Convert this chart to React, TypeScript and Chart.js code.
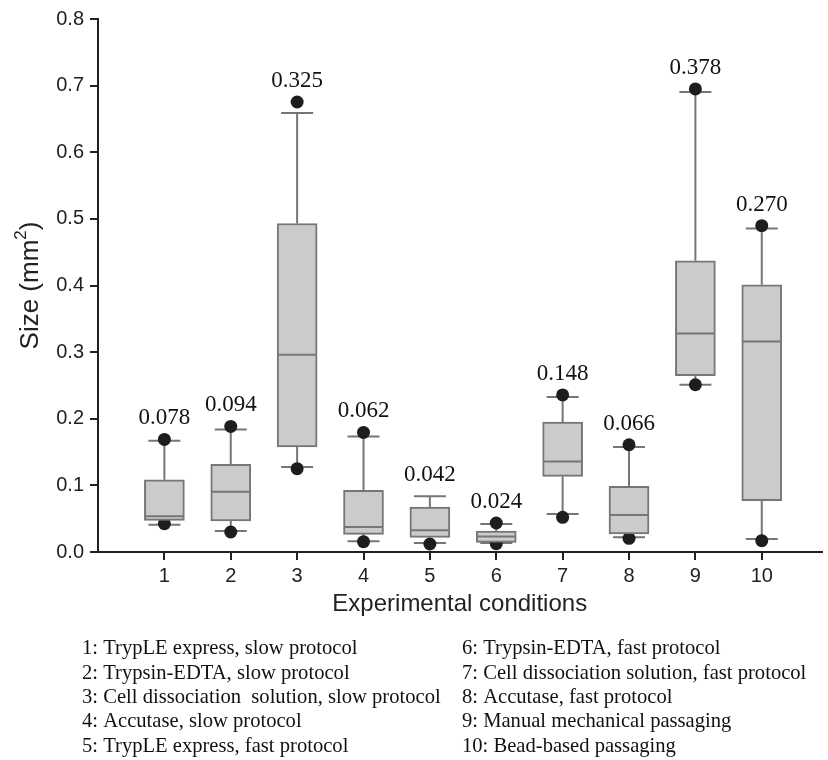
import React, { useEffect, useRef } from 'react';
import { Chart, registerables } from 'chart.js';

Chart.register(...registerables);

// ---- data ----
const categories = [1, 2, 3, 4, 5, 6, 7, 8, 9, 10];
const whiskerLow = [0.041, 0.0315, 0.1276, 0.016, 0.0135, 0.0135, 0.057, 0.022, 0.251, 0.0195];
const quartile1 = [0.0475, 0.0465, 0.1576, 0.0265, 0.022, 0.0144, 0.1135, 0.027, 0.2646, 0.077];
const medians = [0.0535, 0.0905, 0.296, 0.0375, 0.0325, 0.0234, 0.136, 0.0555, 0.328, 0.316];
const quartile3 = [0.1085, 0.1315, 0.493, 0.0925, 0.0675, 0.0315, 0.195, 0.0985, 0.437, 0.401];
const whiskerHigh = [0.167, 0.184, 0.659, 0.1735, 0.0835, 0.042, 0.2327, 0.1576, 0.6905, 0.4857];
const dotsHigh: (number | null)[] = [0.169, 0.1885, 0.6754, 0.1795, null, 0.0435, 0.2357, 0.161, 0.695, 0.4898];
const dotsLow: (number | null)[] = [0.0425, 0.03, 0.125, 0.0155, 0.012, 0.0125, 0.052, 0.0205, 0.251, 0.017];
const meanLabels = ['0.078', '0.094', '0.325', '0.062', '0.042', '0.024', '0.148', '0.066', '0.378', '0.270'];
const yTickValues = [0, 0.1, 0.2, 0.3, 0.4, 0.5, 0.6, 0.7, 0.8];
const legendLeft = [
  '1: TrypLE express, slow protocol',
  '2: Trypsin-EDTA, slow protocol',
  '3: Cell dissociation  solution, slow protocol',
  '4: Accutase, slow protocol',
  '5: TrypLE express, fast protocol',
];
const legendRight = [
  '6: Trypsin-EDTA, fast protocol',
  '7: Cell dissociation solution, fast protocol',
  '8: Accutase, fast protocol',
  '9: Manual mechanical passaging',
  '10: Bead-based passaging',
];
const yTitleMain = 'Size (mm';
const yTitleSup = '2';
const yTitleEnd = ')';

const AXIS = '#231f20';
const BOX_FILL = '#cacbcd';
const BOX_LINE = '#767676';
const DOT = '#1d1d1d';
const SANS = '"Liberation Sans", Arial, sans-serif';
const SERIF = '"Liberation Serif", "Times New Roman", serif';

export default function App() {
  const ref = useRef<HTMLCanvasElement>(null);

  useEffect(() => {
    if (!ref.current) return;

    const boxExtras = {
      id: 'boxExtras',
      beforeDatasetsDraw(chart: any) {
        const { ctx, scales } = chart;
        const x = scales.x, y = scales.y;
        ctx.save();
        ctx.strokeStyle = BOX_LINE;
        ctx.lineWidth = 2;
        const half = 16;
        categories.forEach((c, i) => {
          const px = x.getPixelForValue(c);
          const yHi = y.getPixelForValue(whiskerHigh[i]);
          const yLo = y.getPixelForValue(whiskerLow[i]);
          ctx.beginPath();
          ctx.moveTo(px, y.getPixelForValue(quartile3[i]));
          ctx.lineTo(px, yHi);
          ctx.moveTo(px, y.getPixelForValue(quartile1[i]));
          ctx.lineTo(px, yLo);
          ctx.moveTo(px - half, yHi);
          ctx.lineTo(px + half, yHi);
          ctx.moveTo(px - half, yLo);
          ctx.lineTo(px + half, yLo);
          ctx.stroke();
        });
        ctx.restore();
      },
      afterDatasetsDraw(chart: any) {
        const { ctx, scales } = chart;
        const x = scales.x, y = scales.y;
        ctx.save();
        ctx.strokeStyle = BOX_LINE;
        ctx.lineWidth = 2;
        categories.forEach((c, i) => {
          const px = x.getPixelForValue(c);
          const py = y.getPixelForValue(medians[i]);
          ctx.beginPath();
          ctx.moveTo(px - 19, py);
          ctx.lineTo(px + 19, py);
          ctx.stroke();
        });
        ctx.fillStyle = '#111';
        ctx.font = `23px ${SERIF}`;
        ctx.textAlign = 'center';
        ctx.textBaseline = 'middle';
        categories.forEach((c, i) => {
          const px = x.getPixelForValue(c);
          const top = Math.max(dotsHigh[i] ?? 0, whiskerHigh[i]);
          const py = y.getPixelForValue(top) - 21;
          ctx.fillText(meanLabels[i], px, py);
        });
        ctx.restore();
      },
      afterDraw(chart: any) {
        const { ctx, chartArea } = chart;
        ctx.save();
        // y-axis title with a real superscript
        ctx.fillStyle = '#222';
        ctx.translate(31, (chartArea.top + chartArea.bottom) / 2);
        ctx.rotate(-Math.PI / 2);
        ctx.textBaseline = 'middle';
        const mainFont = `26px ${SANS}`;
        const supFont = `17px ${SANS}`;
        ctx.font = mainFont;
        const w1 = ctx.measureText(yTitleMain).width;
        const w3 = ctx.measureText(yTitleEnd).width;
        ctx.font = supFont;
        const w2 = ctx.measureText(yTitleSup).width;
        let cx = -(w1 + w2 + w3) / 2;
        ctx.textAlign = 'left';
        ctx.font = mainFont;
        ctx.fillText(yTitleMain, cx, 0);
        cx += w1;
        ctx.font = supFont;
        ctx.fillText(yTitleSup, cx, -10);
        cx += w2;
        ctx.font = mainFont;
        ctx.fillText(yTitleEnd, cx, 0);
        ctx.restore();

        ctx.save();
        ctx.fillStyle = '#111';
        ctx.font = `20.6px ${SERIF}`;
        ctx.textAlign = 'left';
        ctx.textBaseline = 'middle';
        const rowY = (r: number) => 649 + r * 24.3;
        legendLeft.forEach((t, r) => ctx.fillText(t, 82, rowY(r)));
        legendRight.forEach((t, r) => ctx.fillText(t, 462, rowY(r)));
        ctx.restore();
      },
    };

    const boxData = categories.map((c, i) => ({ x: c, y: [quartile1[i], quartile3[i]] }));
    const dotData: { x: number; y: number }[] = [];
    categories.forEach((c, i) => {
      if (dotsHigh[i] != null) dotData.push({ x: c, y: dotsHigh[i] as number });
      if (dotsLow[i] != null) dotData.push({ x: c, y: dotsLow[i] as number });
    });

    const chart = new Chart(ref.current, {
      type: 'bar',
      data: {
        datasets: [
          {
            type: 'bar',
            label: 'IQR',
            data: boxData as any,
            backgroundColor: BOX_FILL,
            borderColor: BOX_LINE,
            borderWidth: 2,
            borderSkipped: false,
            barThickness: 40,
            order: 1,
          } as any,
          {
            type: 'scatter',
            label: 'extremes',
            data: dotData,
            pointRadius: 6.5,
            pointHoverRadius: 6.5,
            backgroundColor: DOT,
            borderWidth: 0,
            order: 2,
          } as any,
        ],
      },
      options: {
        animation: false,
        responsive: false,
        devicePixelRatio: 1,
        layout: { padding: { top: 19, bottom: 140, left: 0, right: 0 } },
        plugins: { legend: { display: false }, tooltip: { enabled: false } },
        scales: {
          x: {
            type: 'linear',
            min: 0,
            max: 10.9,
            offset: false,
            afterBuildTicks: (s: any) => {
              s.ticks = categories.map((v) => ({ value: v }));
            },
            afterFit: (s: any) => {
              s.height = 68;
            },
            ticks: {
              autoSkip: false,
              maxRotation: 0,
              padding: 4,
              color: '#222',
              font: { family: SANS, size: 20 },
              callback: (v: any) => String(v),
            },
            grid: { offset: false, drawOnChartArea: false, drawTicks: true, tickLength: 8, color: AXIS, lineWidth: 2 },
            border: { color: AXIS, width: 2 },
            title: {
              display: true,
              text: 'Experimental conditions',
              color: '#222',
              font: { family: SANS, size: 24 },
              padding: { top: 0, bottom: 1 },
            },
          },
          y: {
            type: 'linear',
            min: 0,
            max: 0.8,
            afterBuildTicks: (s: any) => {
              s.ticks = yTickValues.map((v) => ({ value: v }));
            },
            afterFit: (s: any) => {
              s.width = 98;
            },
            ticks: {
              padding: 6,
              color: '#222',
              font: { family: SANS, size: 20 },
              callback: (v: any) => Number(v).toFixed(1),
            },
            grid: { drawOnChartArea: false, drawTicks: true, tickLength: 8, color: AXIS, lineWidth: 2 },
            border: { color: AXIS, width: 2 },
            title: { display: false },
          },
        },
      },
      plugins: [boxExtras],
    } as any);

    return () => chart.destroy();
  }, []);

  return (
    <div style={{ position: 'absolute', left: 0, top: 0, width: 828, height: 760, background: '#fff' }}>
      <canvas ref={ref} width={828} height={760} style={{ display: 'block' }} />
    </div>
  );
}
